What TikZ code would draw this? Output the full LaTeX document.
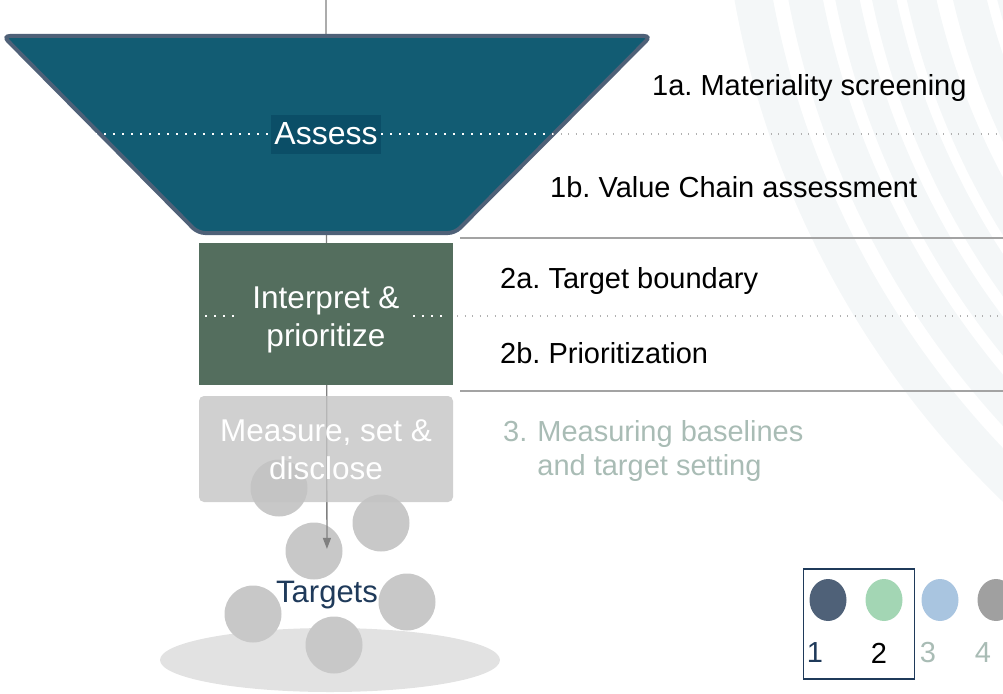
\documentclass[tikz,border=0pt]{standalone}
\usepackage{fontspec}
\setmainfont{Liberation Sans}
\usetikzlibrary{arrows.meta, positioning}
\frenchspacing

\definecolor{funnelfill}{HTML}{125C73}
\definecolor{funnelrim}{HTML}{4F6178}
\definecolor{assessbg}{HTML}{0B4E67}
\definecolor{greenstage}{HTML}{546E5E}
\definecolor{graystage}{HTML}{C4C4C4}
\definecolor{fadetxt}{HTML}{A9BCB5}
\definecolor{linegray}{HTML}{A3A3A3}
\definecolor{dotgray}{HTML}{B0B0B0}
\definecolor{dropgray}{HTML}{C8C8C8}
\definecolor{basegray}{HTML}{E2E2E2}
\definecolor{navytxt}{HTML}{1F3A5A}
\definecolor{arcband}{HTML}{F4F7F8}
\definecolor{key1}{HTML}{4F6178}
\definecolor{key2}{HTML}{A3D6B4}
\definecolor{key3}{HTML}{A9C5E0}
\definecolor{key4}{HTML}{A0A0A0}

\begin{document}
\begin{tikzpicture}[
    x=1pt, y=-1pt,
    stagebox/.style={rectangle, minimum width=254pt, inner sep=0pt},
    stagetxt/.style={align=center, text=white, inner sep=0pt, font=\fontsize{31.5}{38}\selectfont},
    steptxt/.style={anchor=base west, inner sep=0pt, font=\fontsize{29}{34}\selectfont},
    keynum/.style={inner sep=0pt, font=\fontsize{29}{34}\selectfont},
    sepline/.style={draw=linegray, line width=1.8pt},
    whitedots/.style={draw=white, line width=1.5pt, dash pattern=on 1.5pt off 7.5pt},
    graydots/.style={draw=dotgray, line width=1.2pt, dash pattern=on 1.2pt off 6.3pt},
    flowarrow/.style={draw=gray, line width=1.3pt, -{Triangle[length=11pt, width=8pt]}},
    drop/.style={fill=dropgray}
]
\useasboundingbox (0,0) rectangle (1003,693);

% faint arcs in the background
\begin{scope}
\clip (0,0) rectangle (1003,693);
\foreach \ro/\ri in {925/887, 872/838, 826/802, 790/766, 756/727, 711/678, 668/630}
    \fill[arcband, even odd rule] (1645,-164) circle (\ro pt) circle (\ri pt);
\end{scope}

% base and falling drops
\fill[basegray] (330,660) ellipse [x radius=170pt, y radius=32pt];
\foreach \x/\y in {279/488, 381/523, 314/551, 253/614, 407/602, 334/645}
    \fill[drop] (\x,\y) circle (28.5pt);

\coordinate (top) at (326,0);
\node[font=\fontsize{31}{36}\selectfont, text=navytxt, inner sep=0pt] (targets) at (327,595) {Targets};

% main flow line
\draw[flowarrow, shorten >=32pt] (top) -- (targets.north);

% stage 1: funnel
\draw[fill=funnelfill, draw=funnelrim, line width=4pt, rounded corners=7pt]
    (3,36) -- (651,36) -- (455,233) -- (198,233) -- cycle;
\node[fill=assessbg, text=white, inner sep=0pt, minimum width=110pt, minimum height=39pt,
      font=\fontsize{32}{38}\selectfont] (assess) at (326,134) {Assess};
\draw[whitedots] (95,134) -- (assess.west);
\draw[whitedots] (assess.east) -- (553,134);
\draw[graydots] (553,134) -- (1000,134);

% stage 2
\node[stagebox, fill=greenstage, minimum height=142pt] (interpret) at (326,314) {};
\node[stagetxt] (interprettxt) at (326,320) {Interpret \&\\prioritize};
\draw[whitedots] (205,316) -- (240,316);
\draw[whitedots] (413,316) -- (449,316);
\draw[graydots] (457,316) -- (1000,316);

% stage 3
\node[stagebox, fill=graystage, fill opacity=0.8, minimum height=106pt,
      rounded corners=5pt] (measure) at (326,449) {};
\node[stagetxt] (measuretxt) at (326,450) {Measure, set \&\\disclose};

% separators
\draw[sepline] (460,238) -- (1003,238);
\draw[sepline] (460,391) -- (1003,391);

% step texts
\node[steptxt] (s1a) at (652,95) {1a. Materiality screening};
\node[steptxt] (s1b) at (550,197) {1b. Value Chain assessment};
\node[steptxt] (s2a) at (500,288) {2a. Target boundary};
\node[steptxt] (s2b) at (500,363) {2b. Prioritization};
\node[steptxt, text=fadetxt] (s3) at (503,441)
    {\begin{tabular}[t]{@{}l@{\hspace{10pt}}l@{}}3. & Measuring baselines\\ & and target setting\end{tabular}};

% legend
\node[draw=navytxt, line width=1.8pt, minimum width=111pt, minimum height=110pt] (legend) at (859,624) {};
\foreach \x/\c in {828/key1, 884/key2, 940/key3, 996/key4}
    \fill[\c] (\x,600) ellipse [x radius=18.5pt, y radius=21pt];
\node[keynum, text=navytxt] (k1) at (815,653) {1};
\node[keynum, text=black] (k2) at (879,653) {2};
\node[keynum, text=fadetxt] (k3) at (928,653) {3};
\node[keynum, text=fadetxt] (k4) at (983,653) {4};

\end{tikzpicture}
\end{document}
